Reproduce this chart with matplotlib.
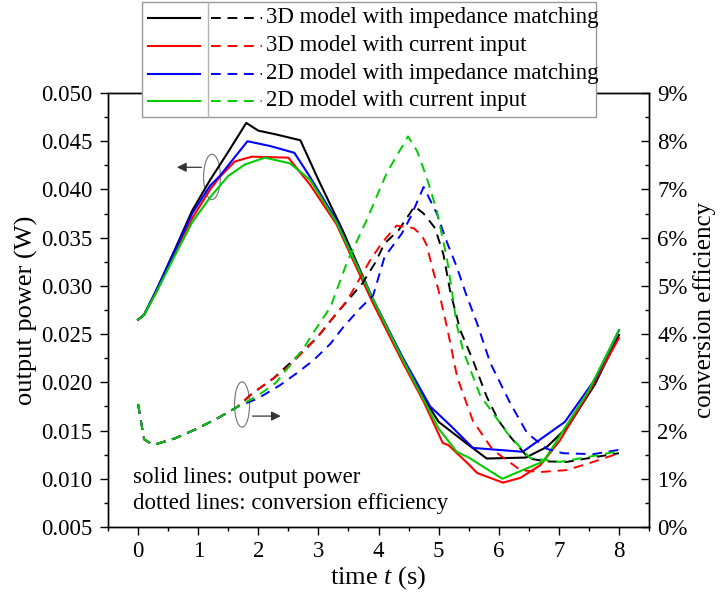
import matplotlib
matplotlib.use('Agg')
import matplotlib.pyplot as plt
from matplotlib.lines import Line2D
from matplotlib.patches import Ellipse, Rectangle
from matplotlib.ticker import MultipleLocator, FuncFormatter

plt.rcParams['font.family'] = 'Liberation Serif'
plt.rcParams['mathtext.fontset'] = 'custom'
plt.rcParams['mathtext.rm'] = 'Liberation Serif'
plt.rcParams['mathtext.it'] = 'Liberation Serif:italic'

# output power (W), solid lines
t_p_3d_imp = [0, 0.1, 0.3, 0.6, 0.9, 1.2, 1.5, 1.8, 2.0, 2.3, 2.7, 3.0, 3.4, 3.9, 4.4, 4.75, 5.0, 5.5, 5.8, 6.45, 6.8, 7.15, 7.6, 8.0]
p_3d_imp = [0.0265, 0.0270, 0.0295, 0.0336, 0.0378, 0.0410, 0.0439, 0.0469, 0.0461, 0.0457, 0.0451, 0.0410, 0.0358, 0.0287, 0.0225, 0.0184, 0.0159, 0.0135, 0.0121, 0.0122, 0.0133, 0.0154, 0.0198, 0.0249]

t_p_3d_cur = [0, 0.1, 0.3, 0.6, 0.9, 1.2, 1.36, 1.61, 1.89, 2.5, 2.86, 3.3, 3.9, 4.4, 4.75, 5.07, 5.16, 5.5, 5.64, 6.07, 6.36, 6.69, 7.02, 7.5, 8.0]
p_3d_cur = [0.0265, 0.0270, 0.0293, 0.0332, 0.0370, 0.0400, 0.0413, 0.0429, 0.0434, 0.0433, 0.0405, 0.0364, 0.0283, 0.0221, 0.0180, 0.0137, 0.0135, 0.0115, 0.0106, 0.0096, 0.0101, 0.0114, 0.0140, 0.0190, 0.0246]

t_p_2d_imp = [0, 0.1, 0.3, 0.6, 0.9, 1.2, 1.36, 1.82, 2.2, 2.6, 2.86, 3.3, 3.9, 4.4, 4.86, 5.2, 5.57, 6.4, 7.1, 7.6, 8.0]
p_2d_imp = [0.0265, 0.0270, 0.0295, 0.0335, 0.0375, 0.0404, 0.0414, 0.0450, 0.0445, 0.0438, 0.0413, 0.0368, 0.0287, 0.0226, 0.0175, 0.0155, 0.0132, 0.0128, 0.0159, 0.0203, 0.0254]

t_p_2d_cur = [0, 0.1, 0.3, 0.6, 0.9, 1.2, 1.5, 1.78, 2.11, 2.53, 2.86, 3.3, 3.9, 4.4, 4.75, 5.0, 5.3, 5.5, 6.06, 6.74, 6.9, 7.5, 8.0]
p_2d_cur = [0.0265, 0.0270, 0.0293, 0.0330, 0.0366, 0.0392, 0.0414, 0.0426, 0.0433, 0.0427, 0.0410, 0.0366, 0.0287, 0.0224, 0.0182, 0.0152, 0.0128, 0.0122, 0.0100, 0.0118, 0.0133, 0.0192, 0.0254]

# conversion efficiency (%), dashed lines
t_e_3d_imp = [0, 0.1, 0.25, 0.62, 1.0, 1.33, 1.65, 1.9, 2.25, 2.53, 2.98, 3.25, 3.49, 3.73, 3.94, 4.1, 4.33, 4.6, 4.75, 4.94, 5.08, 5.19, 5.36, 5.57, 5.8, 6.0, 6.2, 6.5, 6.8, 7.13, 7.6, 8.0]
e_3d_imp = [2.55, 1.82, 1.70, 1.84, 2.05, 2.26, 2.49, 2.77, 3.08, 3.40, 3.93, 4.35, 4.70, 5.05, 5.47, 5.88, 6.15, 6.65, 6.5, 6.2, 5.65, 4.9, 4.08, 3.46, 2.7, 2.2, 1.86, 1.42, 1.36, 1.35, 1.45, 1.53]

t_e_3d_cur = [0, 0.1, 0.25, 0.62, 1.0, 1.33, 1.65, 1.9, 2.25, 2.48, 2.98, 3.25, 3.48, 3.86, 4.05, 4.3, 4.58, 4.72, 4.8, 4.9, 5.0, 5.14, 5.31, 5.57, 5.9, 6.36, 6.69, 7.13, 7.57, 8.0]
e_3d_cur = [2.55, 1.82, 1.70, 1.84, 2.05, 2.26, 2.49, 2.77, 3.08, 3.30, 3.93, 4.35, 4.70, 5.53, 5.88, 6.25, 6.2, 6.05, 5.85, 5.35, 4.9, 4.14, 3.1, 2.2, 1.6, 1.18, 1.14, 1.18, 1.35, 1.53]

t_e_2d_imp = [0, 0.1, 0.25, 0.62, 1.0, 1.33, 1.65, 2.0, 2.36, 2.64, 2.92, 3.2, 3.41, 3.69, 3.91, 4.1, 4.39, 4.53, 4.75, 4.97, 5.14, 5.3, 5.45, 5.64, 5.86, 6.19, 6.47, 6.8, 7.07, 7.57, 8.0]
e_2d_imp = [2.55, 1.82, 1.70, 1.84, 2.05, 2.26, 2.49, 2.67, 2.94, 3.19, 3.46, 3.80, 4.14, 4.53, 4.8, 5.6, 6.09, 6.42, 7.05, 6.5, 5.9, 5.4, 4.85, 4.22, 3.4, 2.57, 1.95, 1.62, 1.53, 1.51, 1.60]

t_e_2d_cur = [0, 0.1, 0.25, 0.62, 1.0, 1.33, 1.65, 2.0, 2.3, 2.75, 2.92, 3.2, 3.47, 3.8, 4.14, 4.49, 4.64, 4.8, 4.97, 5.14, 5.22, 5.3, 5.41, 5.69, 6.14, 6.52, 7.02, 7.47, 8.0]
e_2d_cur = [2.55, 1.82, 1.70, 1.84, 2.05, 2.26, 2.49, 2.73, 3.0, 3.7, 4.04, 4.56, 5.47, 6.36, 7.35, 8.1, 7.8, 7.25, 6.56, 5.55, 4.9, 4.2, 3.65, 2.73, 1.95, 1.43, 1.35, 1.45, 1.57]

labels = ['3D model with impedance matching', '3D model with current input',
          '2D model with impedance matching', '2D model with current input']
colors = ['black', '#ff0000', '#0000ff', '#00cc00']
power = [(t_p_3d_imp, p_3d_imp), (t_p_3d_cur, p_3d_cur), (t_p_2d_imp, p_2d_imp), (t_p_2d_cur, p_2d_cur)]
eff = [(t_e_3d_imp, e_3d_imp), (t_e_3d_cur, e_3d_cur), (t_e_2d_imp, e_2d_imp), (t_e_2d_cur, e_2d_cur)]

fs = 16.5
dash = (0, (5, 3.5))

fig = plt.figure(figsize=(7.21, 5.94), dpi=100)
ax = fig.add_axes([0.1498, 0.1128, 0.7504, 0.7306])
ax2 = ax.twinx()

for (t, p), c in zip(power, colors):
    ax.plot(t, p, color=c, lw=1.5)
for (t, e), c in zip(eff, colors):
    ax2.plot(t, e, color=c, lw=1.4, linestyle=dash)

ax.set_xlim(-0.5, 8.5)
ax.set_ylim(0.005, 0.050)
ax2.set_ylim(0, 9)

ax.xaxis.set_major_locator(MultipleLocator(1))
ax.xaxis.set_minor_locator(MultipleLocator(0.5))
ax.yaxis.set_major_locator(MultipleLocator(0.005))
ax.yaxis.set_minor_locator(MultipleLocator(0.0025))
ax.yaxis.set_major_formatter(FuncFormatter(lambda v, _: '%.3f' % v))
ax2.yaxis.set_major_locator(MultipleLocator(1))
ax2.yaxis.set_minor_locator(MultipleLocator(0.5))
ax2.yaxis.set_major_formatter(FuncFormatter(lambda v, _: '%d%%' % round(v)))

ax.tick_params(axis='both', which='major', direction='out', length=6, width=1, labelsize=fs, pad=5)
ax.tick_params(axis='both', which='minor', direction='out', length=3, width=1)
ax.tick_params(axis='x', which='major', pad=4)
ax2.tick_params(axis='y', which='major', direction='in', length=6, width=1, labelsize=fs, pad=6)
ax2.tick_params(axis='y', which='minor', direction='in', length=3, width=1)
for a in (ax, ax2):
    for s in a.spines.values():
        s.set_linewidth(1.0)

ax.set_xlabel('time $\\mathit{t}$ (s)', fontsize=19)
ax.xaxis.set_label_coords(0.5, -0.085)
ax.set_ylabel('output power (W)', fontsize=19)
ax.yaxis.set_label_coords(-0.129, 0.5)
ax2.set_ylabel('conversion efficiency', fontsize=18)
ax2.yaxis.set_label_coords(1.081, 0.5)

# annotations
ax.add_patch(Ellipse((1.23, 0.0413), 0.28, 0.0047, fill=False, ec='0.45', lw=0.8))
ax.annotate('', xy=(0.6, 0.0423), xytext=(1.1, 0.0423),
            arrowprops=dict(arrowstyle='-|>', color='0.2', lw=0.9, mutation_scale=14))
ax.add_patch(Ellipse((1.73, 0.0177), 0.25, 0.0047, fill=False, ec='0.45', lw=0.8))
ax.annotate('', xy=(2.42, 0.0165), xytext=(1.86, 0.0165),
            arrowprops=dict(arrowstyle='-|>', color='0.2', lw=0.9, mutation_scale=14))

ax.text(0.046, 0.115, 'solid lines: output power', transform=ax.transAxes,
        fontsize=fs, va='center', ha='left')
ax.text(0.046, 0.055, 'dotted lines: conversion efficiency', transform=ax.transAxes,
        fontsize=fs, va='center', ha='left')

# legend box drawn above the axes (solid | dashed | label)
W, H = 721.0, 594.0
fx = lambda px: px / W
fy = lambda py: 1 - py / H
fig.add_artist(Rectangle((fx(142), fy(117)), fx(596) - fx(142), fy(2) - fy(117),
                         transform=fig.transFigure, facecolor='white', edgecolor='0.6', lw=1.0, zorder=10))
fig.add_artist(Line2D([fx(208), fx(208)], [fy(2), fy(117)], transform=fig.transFigure,
                      color='0.7', lw=1.0, zorder=11))
rows = [18, 46, 74, 101]
for r, c, lab in zip(rows, colors, labels):
    fig.add_artist(Line2D([fx(148), fx(200)], [fy(r), fy(r)], transform=fig.transFigure,
                          color=c, lw=1.5, zorder=11))
    fig.add_artist(Line2D([fx(211), fx(262)], [fy(r), fy(r)], transform=fig.transFigure,
                          color=c, lw=1.4, linestyle=dash, zorder=11))
    fig.text(fx(266), fy(r), lab, fontsize=fs, va='center', ha='left', zorder=12)

fig.savefig('out.png', dpi=100)
